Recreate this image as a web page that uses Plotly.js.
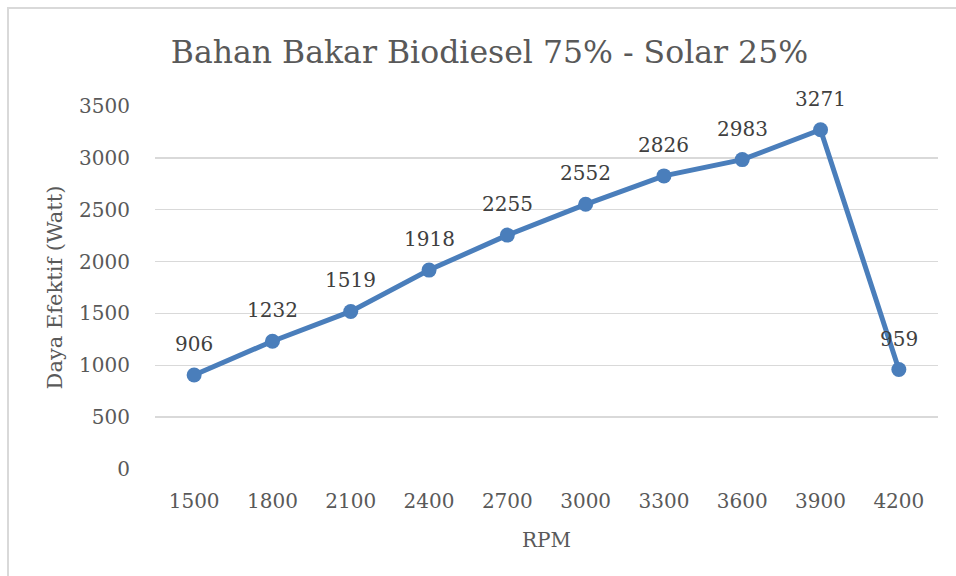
<!DOCTYPE html>
<html><head><meta charset="utf-8">
<script src="https://cdn.plot.ly/plotly-3.0.1.min.js"></script>
<style>
html,body{margin:0;padding:0;background:#fff;overflow:hidden;}
#frame{position:absolute;left:7px;top:7px;width:980px;height:600px;border:2px solid #d9d9d9;}
#chart{position:absolute;left:0;top:0;width:956px;height:576px;}
</style></head>
<body>
<div id="frame"></div>
<div id="chart"></div>
<script>
const rpm = ['1500','1800','2100','2400','2700','3000','3300','3600','3900','4200'];
const daya = [906, 1232, 1519, 1918, 2255, 2552, 2826, 2983, 3271, 959];
const yTicks = [0, 500, 1000, 1500, 2000, 2500, 3000, 3500];

const FONT = 'DejaVu Serif, Liberation Serif, serif';
const TXT = '#595959';

// data labels: x given as category index on the category axis
const labels = rpm.map((r, i) => ({
  x: i, y: daya[i], xref: 'x', yref: 'y', text: String(daya[i]),
  showarrow: false, xanchor: 'center', yanchor: 'middle', yshift: 31,
  font: {family: FONT, size: 20, color: '#404040'}
}));

Plotly.newPlot('chart', [{
  x: rpm, y: daya, type: 'scatter', mode: 'lines+markers',
  line: {color: '#4a7ebb', width: 5},
  marker: {color: '#4a7ebb', size: 15},
  cliponaxis: false, hoverinfo: 'skip'
}], {
  width: 956, height: 576,
  paper_bgcolor: 'rgba(0,0,0,0)', plot_bgcolor: 'rgba(0,0,0,0)',
  margin: {l: 155, r: 18, t: 106, b: 107, autoexpand: false},
  showlegend: false,
  annotations: labels,
  title: {text: 'Bahan Bakar Biodiesel 75% - Solar 25%', x: 0.512, xanchor: 'center', y: 0.91, yanchor: 'middle',
          font: {family: FONT, size: 31.5, color: TXT}},
  xaxis: {type: 'category', categoryorder: 'array', categoryarray: rpm, range: [-0.5, rpm.length - 0.5],
          showgrid: false, zeroline: false, showline: false, automargin: false,
          ticks: 'outside', ticklen: 14, tickcolor: 'rgba(0,0,0,0)',
          tickfont: {family: FONT, size: 20, color: TXT},
          title: {text: 'RPM', font: {family: FONT, size: 20, color: TXT}, standoff: 20}},
  yaxis: {range: [0, 3500], tickvals: yTicks, ticktext: yTicks.map(String), automargin: false,
          showgrid: true, gridcolor: '#d9d9d9', gridwidth: 1.5, zeroline: false, showline: false,
          ticks: 'outside', ticklen: 20, tickcolor: 'rgba(0,0,0,0)',
          tickfont: {family: FONT, size: 20, color: TXT},
          title: {text: 'Daya Efektif (Watt)', font: {family: FONT, size: 21, color: TXT}, standoff: 10}}
}, {staticPlot: true});
</script>
</body></html>
